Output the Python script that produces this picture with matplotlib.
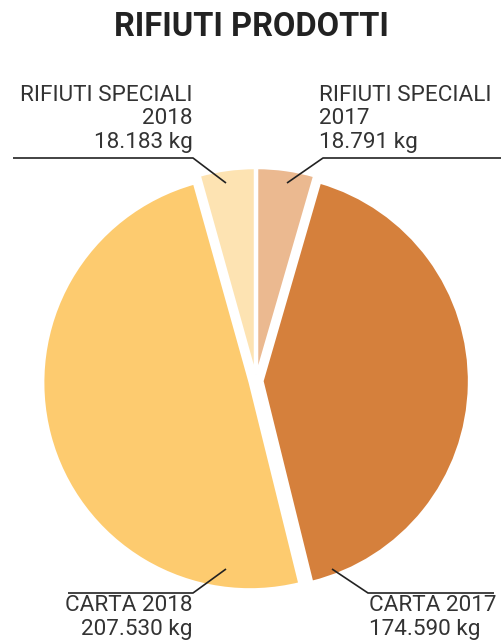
import matplotlib
matplotlib.use("Agg")
import matplotlib.pyplot as plt

plt.rcParams["font.family"] = ["Roboto", "DejaVu Sans"]

# data (kg)
labels = ["RIFIUTI SPECIALI 2017", "CARTA 2017", "CARTA 2018", "RIFIUTI SPECIALI 2018"]
values = [18.791, 174.590, 207.530, 18.183]
value_text = ["18.791 kg", "174.590 kg", "207.530 kg", "18.183 kg"]
colors = ["#EBB990", "#D5803C", "#FDCB6F", "#FDE3B2"]

W, H = 502, 644
CX, CY, R = 256, 381, 207
TXT = "#333333"


def px(x, y):
    # pixel position (from top-left) -> data coords, radius 1 = R px
    return (x - CX) / R, (CY - y) / R


fig = plt.figure(figsize=(W / 100, H / 100), dpi=100)
ax = fig.add_axes([0, 0, 1, 1])
ax.pie(values, colors=colors, startangle=90, counterclock=False,
       explode=[0.03] * 4, radius=1.0,
       wedgeprops=dict(edgecolor="white", linewidth=2))
ax.set_xlim(-CX / R, (W - CX) / R)
ax.set_ylim(-(H - CY) / R, CY / R)
ax.set_aspect("equal", adjustable="datalim")
ax.axis("off")

fig.text(0.5, 1 - 27 / H, "RIFIUTI PRODOTTI", ha="center", va="center",
         fontsize=23.5, fontweight="bold", color="#222222")

lw = 1.2
lc = "#222222"
fs = 16.2
ls = 1.17


def leader(points):
    xs, ys = zip(*[px(*p) for p in points])
    ax.plot(xs, ys, color=lc, lw=lw, solid_capstyle="butt")


# top left: RIFIUTI SPECIALI 2018
leader([(13, 158), (193, 158), (226, 183)])
ax.text(*px(193, 148), "RIFIUTI SPECIALI\n2018\n" + value_text[3],
        ha="right", va="baseline", fontsize=fs, color=TXT, linespacing=ls)

# top right: RIFIUTI SPECIALI 2017
leader([(502, 158), (323, 158), (287, 183)])
ax.text(*px(319, 148), "RIFIUTI SPECIALI\n2017\n" + value_text[0],
        ha="left", va="baseline", fontsize=fs, color=TXT, linespacing=ls)

# bottom left: CARTA 2018
leader([(68, 593), (193, 593), (226, 569)])
ax.text(*px(193, 595), "CARTA 2018\n" + value_text[2],
        ha="right", va="top", fontsize=fs, color=TXT, linespacing=ls)

# bottom right: CARTA 2017
leader([(494, 593), (368, 593), (332, 569)])
ax.text(*px(369, 595), "CARTA 2017\n" + value_text[1],
        ha="left", va="top", fontsize=fs, color=TXT, linespacing=ls)

fig.savefig("out.png", dpi=100)
plt.close(fig)
